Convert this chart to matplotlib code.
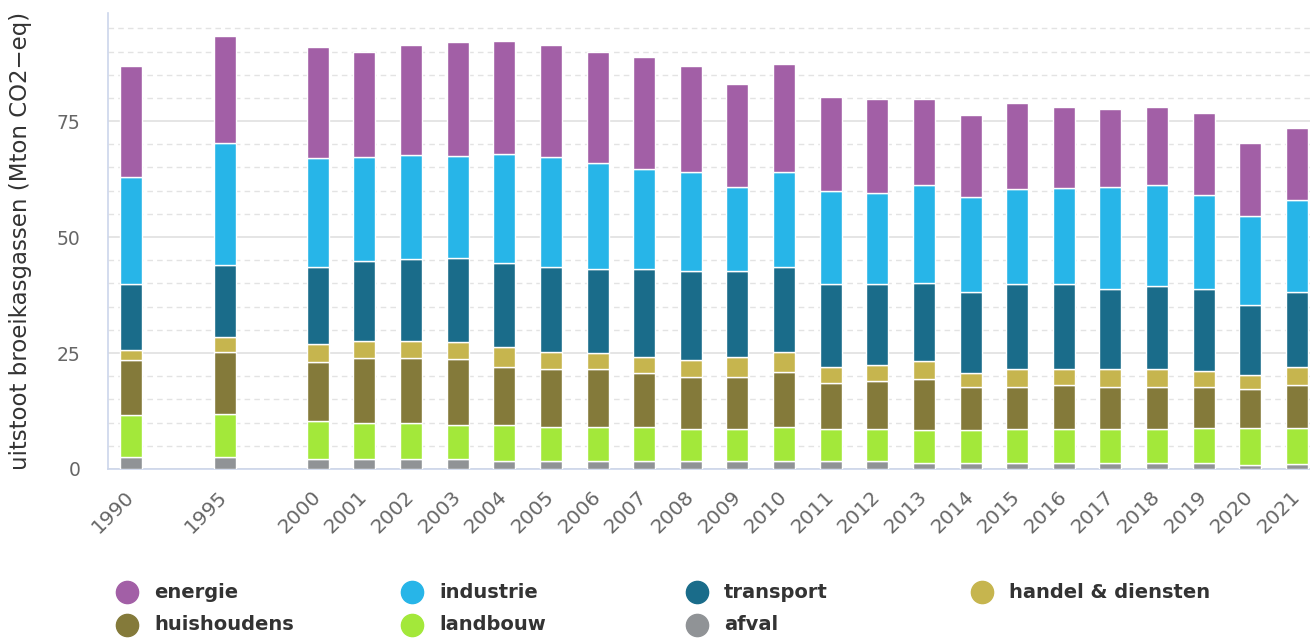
import matplotlib.pyplot as plt
import numpy as np
from matplotlib.lines import Line2D
from matplotlib.ticker import MultipleLocator

years = ['1990', '1995'] + [str(y) for y in range(2000, 2022)]

# Mton CO2-eq per sector
afval = [2.65, 2.65, 2.15, 2.15, 2.15, 2.15, 1.8, 1.8, 1.8, 1.8, 1.8, 1.8,
         1.8, 1.8, 1.8, 1.4, 1.4, 1.4, 1.4, 1.4, 1.4, 1.4, 0.9, 1.0]
landbouw = [8.9, 9.2, 8.1, 7.7, 7.7, 7.4, 7.7, 7.3, 7.2, 7.2, 6.8, 6.8,
            7.2, 6.8, 6.8, 6.9, 6.9, 7.15, 7.15, 7.15, 7.15, 7.5, 8.0, 7.9]
huishoudens = [12.0, 13.3, 12.8, 14.05, 14.05, 14.1, 12.5, 12.5, 12.6, 11.6, 11.2, 11.2,
               12.0, 10.0, 10.4, 11.1, 9.3, 9.05, 9.55, 9.05, 9.05, 8.8, 8.3, 9.2]
handel = [2.1, 3.4, 3.9, 3.8, 3.8, 3.8, 4.2, 3.7, 3.3, 3.6, 3.8, 4.3,
          4.3, 3.3, 3.4, 3.9, 3.0, 4.0, 3.5, 4.0, 4.0, 3.5, 3.1, 3.8]
transport = [14.2, 15.5, 16.7, 17.1, 17.5, 18.0, 18.3, 18.3, 18.3, 19.0, 19.1, 18.6,
             18.3, 17.9, 17.5, 16.9, 17.6, 18.3, 18.3, 17.3, 17.8, 17.7, 15.0, 16.3]
industrie = [23.0, 26.3, 23.4, 22.5, 22.5, 22.1, 23.4, 23.6, 22.7, 21.4, 21.4, 18.0,
             20.5, 20.1, 19.6, 21.0, 20.5, 20.4, 20.7, 21.8, 21.8, 20.2, 19.2, 19.8]
energie = [24.1, 22.9, 24.0, 22.6, 23.8, 24.4, 24.4, 24.3, 23.9, 24.3, 22.8, 22.4,
           23.2, 20.2, 20.2, 18.5, 17.7, 18.5, 17.5, 17.0, 16.9, 17.7, 15.7, 15.6]

# stacking order bottom -> top
series = [
    ('afval', afval, '#909396'),
    ('landbouw', landbouw, '#a3e83a'),
    ('huishoudens', huishoudens, '#847a3a'),
    ('handel & diensten', handel, '#c6b54e'),
    ('transport', transport, '#1a6c8a'),
    ('industrie', industrie, '#27b5e8'),
    ('energie', energie, '#a25fa6'),
]
legend_order = ['energie', 'industrie', 'transport', 'handel & diensten',
                'huishoudens', 'landbouw', 'afval']

# 1990 and 1995 are followed by an empty slot
x = np.array([0, 2] + list(range(4, 26)))

fig = plt.figure(figsize=(13.1, 6.4), dpi=100)
ax = fig.add_axes([108/1310, 1 - 469/640, 1 - 108/1310, (469 - 13)/640])

bottom = np.zeros(len(years))
for name, vals, color in series:
    ax.bar(x, vals, width=0.47, bottom=bottom, color=color,
           edgecolor='white', linewidth=1, zorder=3)
    bottom += np.array(vals)

ax.set_xlim(-0.5, 25.28)
ax.set_ylim(0, 98.3)
ax.yaxis.set_major_locator(MultipleLocator(25))
ax.yaxis.set_minor_locator(MultipleLocator(5))
ax.grid(axis='y', which='major', color='#e0e0e0', linewidth=1.2, zorder=0)
ax.grid(axis='y', which='minor', color='#e3e3e3', linewidth=1,
        linestyle=(0, (4, 3)), zorder=0)
ax.set_axisbelow(True)

for s in ['top', 'right']:
    ax.spines[s].set_visible(False)
for s in ['left', 'bottom']:
    ax.spines[s].set_color('#ccd6eb')
    ax.spines[s].set_linewidth(1.2)

ax.tick_params(axis='both', which='both', length=0)
ax.tick_params(axis='y', labelsize=13.5, labelcolor='#666666', pad=20)
ax.set_xticks(x)
ax.set_xticklabels(years, rotation=45, ha='right', va='center',
                   rotation_mode='anchor', fontsize=14.5, color='#666666')
ax.tick_params(axis='x', pad=18)

ax.set_ylabel('uitstoot broeikasgassen (Mton CO2\u2212eq)', fontsize=16.5,
              color='#333333')
ax.yaxis.set_label_coords(-0.063, 0.5)

colors = {name: color for name, vals, color in series}
for i, name in enumerate(legend_order):
    col, row = i % 4, i // 4
    xm = (127 + 285 * col) / 1310
    ym = 1 - (592 + 33 * row) / 640
    fig.add_artist(Line2D([xm], [ym], marker='o', markersize=16, linestyle='',
                          color=colors[name], transform=fig.transFigure))
    fig.text(xm + 27 / 1310, ym, name, ha='left', va='center', fontsize=14,
             fontweight='bold', color='#333333')

plt.savefig('out.png')
